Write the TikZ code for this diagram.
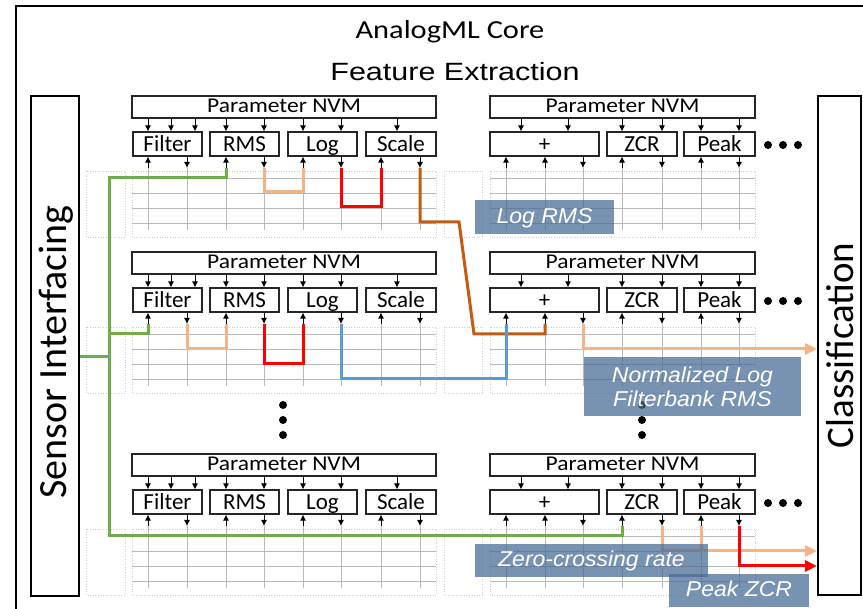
\documentclass[tikz,border=0pt]{standalone}
\usepackage{fontspec}
\setmainfont{Carlito}
\newfontfamily\labelfont{Liberation Sans}
\usetikzlibrary{arrows.meta,calc}

\definecolor{busgreen}{RGB}{112,173,71}
\definecolor{peach}{RGB}{246,180,134}
\definecolor{rustorange}{RGB}{197,90,17}
\definecolor{skyblue}{RGB}{91,155,213}
\definecolor{tagblue}{RGB}{68,104,148}
\definecolor{gridgray}{RGB}{185,185,185}

\newcommand\fsz[1]{\fontsize{#1pt}{#1pt}\selectfont}

\tikzset{
  unitbox/.style={draw=black!85, line width=1.2pt, minimum height=24pt, inner sep=0pt,
    font=\fsz{23}, text height=18pt, text depth=2pt},
  nvmbox/.style={draw=black!85, line width=1.2pt, minimum height=22pt, inner sep=0pt,
    font=\fsz{21}, text height=15pt, text depth=3pt},
  sidebox/.style={draw=black, line width=2pt, rotate=90, inner sep=0pt, font=\fsz{40}},
  sarr/.style={draw=black, line width=0.8pt, -{Latex[length=6pt,width=6pt]}},
  gridline/.style={draw=gridgray, line width=0.8pt},
  dotbox/.style={draw=gray!40, line width=0.6pt, dotted},
  wire/.style={line width=3pt},
  outarr/.style={line width=3pt, -{Triangle[length=12pt,width=11pt]}},
  tag/.style={fill=tagblue, fill opacity=0.72, text opacity=1, text=white, inner sep=0pt,
    font=\labelfont\itshape\fsz{21.5}},
}

% one row of processing units: #1 = row id, #2 = top edge
\newcommand\blockrow[2]{%
  % grid behind the units
  \draw[dotbox] (86,{#2+75}) rectangle (125,{#2+141});
  \draw[dotbox] (132,{#2+75}) rectangle (436,{#2+141});
  \draw[dotbox] (444,{#2+75}) rectangle (482,{#2+141});
  \draw[dotbox] (490,{#2+75}) rectangle (755,{#2+141});
  \foreach \dy in {82,97,112,127} {
    \draw[gridline] (132,{#2+\dy}) -- (436,{#2+\dy});
    \draw[gridline] (490,{#2+\dy}) -- (755,{#2+\dy});
  }
  \foreach \x in {148,187,226,264,303,341,381,420,506,545,583,622,662,701,739} {
    \draw[gridline] (\x,{#2+72}) -- (\x,{#2+134});
    \coordinate (p#1x\x) at (\x,{#2+72});
  }
  % left group
  \node[nvmbox, minimum width=304pt] (nvmL#1) at (284,{#2+11}) {\scalebox{1.12}[1]{Parameter NVM}};
  \node[unitbox, minimum width=69pt] (filter#1) at (167.5,{#2+48}) {Filter};
  \node[unitbox, minimum width=69pt] (rms#1) at (244.5,{#2+48}) {RMS};
  \node[unitbox, minimum width=69pt] (log#1) at (322.5,{#2+48}) {Log};
  \node[unitbox, minimum width=70pt] (scale#1) at (401,{#2+48}) {Scale};
  % right group
  \node[nvmbox, minimum width=265pt] (nvmR#1) at (622.5,{#2+11}) {\scalebox{1.12}[1]{Parameter NVM}};
  \node[unitbox, minimum width=109pt] (plus#1) at (544.5,{#2+48}) {+};
  \node[unitbox, minimum width=70pt] (zcr#1) at (642,{#2+48}) {ZCR};
  \node[unitbox, minimum width=71pt] (peak#1) at (719.5,{#2+48}) {Peak};
  % parameters into the units
  \foreach \x/\bn in {148/filter,171/filter,195/filter,226/rms,264/rms,303/log,341/log,397/scale,
                      521/plus,568/plus,622/zcr,662/zcr,701/peak,739/peak}
    \draw[sarr] (nvmL#1.south -| \x,0) -- (\bn#1.north -| \x,0);
  % inputs
  \foreach \x/\bn in {148/filter,226/rms,303/log,381/scale,506/plus,545/plus,622/zcr,701/peak}
    \draw[sarr] (p#1x\x) -- (\bn#1.south -| \x,0);
  % outputs
  \foreach \x/\bn in {187/filter,264/rms,341/log,420/scale,583/plus,662/zcr,739/peak}
    \draw[sarr] (\bn#1.south -| \x,0) -- (p#1x\x);
  % more units to the right
  \foreach \x in {768,783,798} \fill (\x,{#2+49}) circle[radius=4pt];
}

\begin{document}
\begin{tikzpicture}[x=1pt,y=-1pt]
\useasboundingbox (0,0) rectangle (863,609);

% outer frame
\begin{scope}
  \clip (0,0) rectangle (863,609);
  \draw[line width=2pt] (16,6) rectangle (900,660);
\end{scope}

\node[anchor=base, font=\fsz{26}] (core) at (450,39) {\scalebox{1.17}[1]{AnalogML Core}};
\node[anchor=base, font=\labelfont\fsz{25}] (fe) at (455,81) {\scalebox{1.22}[1]{Feature Extraction}};

\node[sidebox, minimum width=500pt, minimum height=48pt, text height=28pt, text depth=6pt]
  (sensor) at (55,346) {Sensor Interfacing\hspace*{12pt}};
\node[sidebox, minimum width=499pt, minimum height=43pt, font=\fsz{39}, text height=30pt, text depth=3pt]
  (class) at (839.5,345.5) {Classification};

\blockrow{1}{96}
\blockrow{2}{252}
\blockrow{3}{454}

% vertical ellipses between rows
\foreach \x in {283,642} \foreach \y in {405,420,435} \fill (\x,\y) circle[radius=4pt];

% named bends
\coordinate (gtop) at (109,178);
\coordinate (gmid) at (109,334);
\coordinate (gsen) at (109,357);
\coordinate (gbot) at (109,536);
\coordinate (bk1) at (459,222);
\coordinate (bk2) at (474,334);

% sensor bus
\draw[wire, busgreen] (p1x226) |- (gtop) -- (gbot) -| (p3x622);
\draw[wire, busgreen] (gmid) -| (p2x148);
\draw[wire, busgreen] (sensor.south |- gsen) -- (gsen);

% row 1 chain
\draw[wire, peach] (p1x264) -- ++(0,24) -| (p1x303);
\draw[wire, red] (p1x341) -- ++(0,39) -| (p1x381);
\draw[wire, rustorange] (p1x420) |- (bk1) -- (bk2) -| (p2x545);

% row 2 chain
\draw[wire, peach] (p2x187) -- ++(0,25) -| (p2x226);
\draw[wire, red] (p2x264) -- ++(0,40) -| (p2x303);
\draw[wire, skyblue] (p2x341) -- ++(0,55) -| (p2x506);
\draw[outarr, peach] (p2x583) -- ++(0,25) coordinate (po2) -- (po2 -| class.north);

% row 3 outputs
\draw[outarr, peach] (p3x662) -- ++(0,25) coordinate (po3) -- (po3 -| class.north);
\draw[wire, peach] (p3x701) -- (p3x701 |- po3);
\draw[outarr, red] (p3x739) -- ++(0,40) coordinate (pr3) -- (pr3 -| class.north);

% feature tags
\node[tag, minimum width=139pt, minimum height=34pt, text height=16pt, text depth=2pt]
  (tlog) at (544.5,217) {\scalebox{1.07}[1]{Log RMS}};
\node[tag, minimum width=217pt, minimum height=59pt, align=center, font=\labelfont\itshape\fontsize{21.5pt}{24pt}\selectfont]
  (tnorm) at (692.5,386.5) {\scalebox{1.07}[1]{Normalized Log}\\\scalebox{1.07}[1]{Filterbank RMS}};
\node[tag, minimum width=233pt, minimum height=33pt, text height=15.5pt, text depth=2.5pt]
  (tzcr) at (591.5,560.5) {\scalebox{1.07}[1]{Zero-crossing rate}};
\node[tag, minimum width=140pt, minimum height=33pt, text height=15.5pt, text depth=2.5pt]
  (tpeak) at (739,590.5) {\scalebox{1.07}[1]{Peak ZCR}};
\end{tikzpicture}
\end{document}
